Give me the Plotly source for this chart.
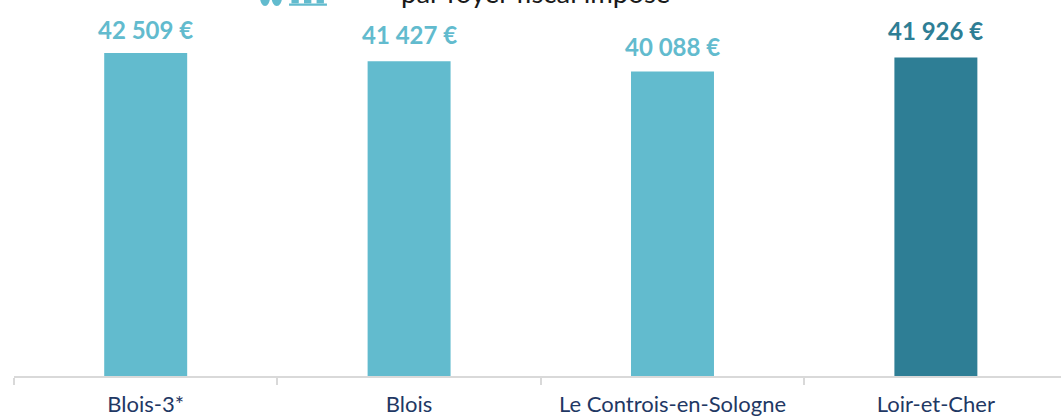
import plotly.graph_objects as go

categories = ["Blois-3*", "Blois", "Le Controis-en-Sologne", "Loir-et-Cher"]
values = [42509, 41427, 40088, 41926]
labels = ["42 509 €", "41 427 €", "40 088 €", "41 926 €"]
label_gaps = [24, 27, 25, 27]
colors = ["#62BBCE", "#62BBCE", "#62BBCE", "#2E7E95"]
title_text = "par foyer fiscal imposé"
FONT = "Lato, Carlito, Calibri, sans-serif"

fig = go.Figure(go.Bar(
    x=categories, y=values, marker_color=colors, marker_line_width=0,
    width=0.315, hoverinfo="skip",
))
annots = [dict(x=c, y=v, yref="y", xref="x", text=f"<b>{t}</b>", yshift=g, yanchor="middle",
               xanchor="center", showarrow=False,
               font=dict(family=FONT, size=24, color=col))
          for c, v, t, g, col in zip(categories, values, labels, label_gaps, colors)]
annots.append(dict(text=title_text, xref="paper", yref="paper", x=0.4985, y=1.0, yshift=-11,
                   xanchor="center", yanchor="bottom", showarrow=False,
                   font=dict(family=FONT, size=27.5, color="#1A1A1A")))
# pictogram partly cut by the top edge
icon = "#62BBCE"
shapes = [
    dict(type="circle", xref="paper", yref="paper", x0=0.2350, x1=0.2445, y0=0.984, y1=1.03,
         fillcolor=icon, line_width=0),
    dict(type="circle", xref="paper", yref="paper", x0=0.2460, x1=0.2560, y0=0.984, y1=1.03,
         fillcolor=icon, line_width=0),
    dict(type="rect", xref="paper", yref="paper", x0=0.2627, x1=0.2989, y0=0.985, y1=0.991,
         fillcolor=icon, line_width=0),
]
for x0 in (0.2650, 0.2770, 0.2890):
    shapes.append(dict(type="rect", xref="paper", yref="paper", x0=x0, x1=x0 + 0.007,
                       y0=0.991, y1=1.03, fillcolor=icon, line_width=0))

fig.update_layout(
    width=1061, height=417, margin=dict(l=14, r=0, t=0, b=41),
    paper_bgcolor="white", plot_bgcolor="white", showlegend=False,
    xaxis=dict(range=[-0.5, 3.475], tickson="boundaries", ticks="outside", ticklen=7,
               tickcolor="#D9D9D9", tickwidth=2, showline=True, linecolor="#D9D9D9",
               linewidth=2, showgrid=False, ticklabelstandoff=8, tickangle=0,
               automargin=False,
               tickfont=dict(family=FONT, size=22, color="#1F3864")),
    yaxis=dict(range=[0, 49484], visible=False),
    annotations=annots, shapes=shapes,
)
fig.write_html("out.html", config=dict(displayModeBar=False),
               post_script="document.body.style.margin='0';document.body.style.overflow='hidden';")
